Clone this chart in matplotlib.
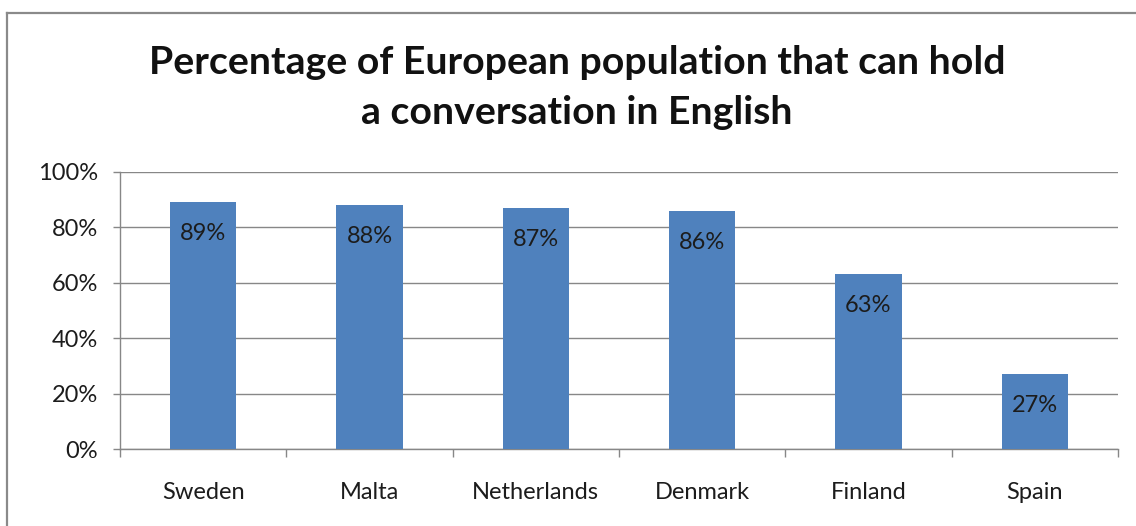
import matplotlib
matplotlib.use("Agg")
import matplotlib.pyplot as plt
from matplotlib.ticker import FuncFormatter, MultipleLocator, FixedLocator
from matplotlib.lines import Line2D

countries = ["Sweden", "Malta", "Netherlands", "Denmark", "Finland", "Spain"]
percent = [89, 88, 87, 86, 63, 27]
title_lines = ["Percentage of European population that can hold",
               "a conversation in English"]

BAR = "#4F81BD"
GRID = "#878787"
TEXT = "#1c1c1c"
FONT = "Lato"

plt.rcParams["font.family"] = [FONT, "DejaVu Sans"]

fig = plt.figure(figsize=(11.36, 5.26), dpi=100)
fig.patch.set_facecolor("white")

# chart-area frame (top and left edges visible)
fig.add_artist(Line2D([7 / 1136, 7 / 1136], [0, 1 - 13 / 526],
                      transform=fig.transFigure, color="#8a8a8a", lw=1.6))
fig.add_artist(Line2D([7 / 1136, 1], [1 - 13 / 526, 1 - 13 / 526],
                      transform=fig.transFigure, color="#8a8a8a", lw=1.6))

ax = fig.add_axes([120 / 1136, 1 - 449 / 526, (1118 - 120) / 1136, (449 - 172) / 526])

x = list(range(len(countries)))
ax.bar(x, percent, width=0.4, color=BAR, zorder=3)
ax.set_xlim(-0.5, len(countries) - 0.5)
ax.set_ylim(0, 100)

for xi, v in zip(x, percent):
    ax.annotate(f"{v}%", (xi, v), xytext=(0, -22.5), textcoords="offset points",
                ha="center", va="center", fontsize=17, color=TEXT, zorder=4)

ax.yaxis.set_major_locator(MultipleLocator(20))
ax.yaxis.set_major_formatter(FuncFormatter(lambda v, _: f"{v:.0f}%"))
ax.grid(axis="y", color=GRID, lw=1.0, zorder=0)
ax.set_axisbelow(True)

ax.set_xticks(x)
ax.set_xticklabels(countries)
ax.xaxis.set_minor_locator(FixedLocator([i + 0.5 for i in range(-1, len(countries))]))
ax.tick_params(axis="x", which="major", length=0, pad=24, labelsize=17, labelcolor=TEXT)
ax.tick_params(axis="x", which="minor", length=6, width=1.0, color=GRID)
ax.tick_params(axis="y", length=5, width=1.0, color=GRID, pad=11, labelsize=17, labelcolor=TEXT)

for s in ["top", "right"]:
    ax.spines[s].set_visible(False)
for s in ["left", "bottom"]:
    ax.spines[s].set_color(GRID)
    ax.spines[s].set_linewidth(1.0)

fig.text(577 / 1136, 1 - 63 / 526, title_lines[0], ha="center", va="center",
         fontsize=28.3, fontweight="bold", color="#111111")
fig.text(577 / 1136, 1 - 113 / 526, title_lines[1], ha="center", va="center",
         fontsize=28.3, fontweight="bold", color="#111111")

fig.savefig("out.png", dpi=100, facecolor="white")
